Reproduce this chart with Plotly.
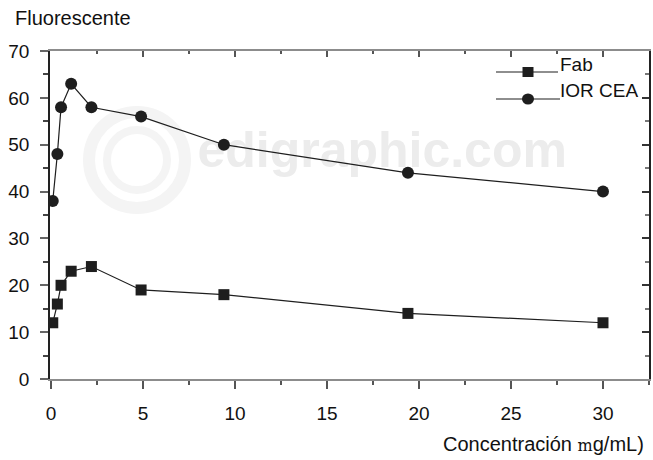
import plotly.graph_objects as go

# Concentration (x) and fluorescence readings for both antibody preparations
concentracion = [0.1, 0.35, 0.55, 1.1, 2.2, 4.9, 9.4, 19.4, 30]
fab = [12, 16, 20, 23, 24, 19, 18, 14, 12]
ior_cea = [38, 48, 58, 63, 58, 56, 50, 44, 40]
series_names = ["Fab", "IOR CEA"]
x_ticks = [0, 5, 10, 15, 20, 25, 30]
y_ticks = [0, 10, 20, 30, 40, 50, 60, 70]
y_title = "Fluorescente"
x_title = "Concentración <span style=\"font-family:'DejaVu Serif';font-size:16px\">m</span>g/mL)"
watermark = "edigraphic.com"

FONT = "Liberation Sans, Arial, Helvetica, sans-serif"
INK = "#1e1e1e"

# plot-area geometry in pixels (used to place the hand-drawn legend)
L, R, T, B = 50, 649, 51, 379
W, H = R - L, B - T


def px(x):
    return (x - L) / W


def py(y):
    return (B - y) / H


fig = go.Figure()

# faint publisher watermark behind the data
fig.add_trace(go.Scatter(
    x=[18.0], y=[48.0], mode="text", text=[watermark],
    textfont=dict(family="Liberation Sans, Arial", size=50,
                  color="#ececec", weight="bold"),
    hoverinfo="skip", showlegend=False))

fig.add_trace(go.Scatter(
    x=concentracion, y=fab, name=series_names[0], mode="lines+markers",
    line=dict(color=INK, width=1.2),
    marker=dict(symbol="square", size=11, color=INK),
    showlegend=False))

fig.add_trace(go.Scatter(
    x=concentracion, y=ior_cea, name=series_names[1], mode="lines+markers",
    line=dict(color=INK, width=1.2),
    marker=dict(symbol="circle", size=12, color=INK),
    showlegend=False))

tickfont = dict(family=FONT, size=19, color="#111")

fig.update_layout(
    width=653, height=460,
    margin=dict(l=L, r=653 - R, t=T, b=460 - B, pad=0),
    paper_bgcolor="white", plot_bgcolor="rgba(0,0,0,0)",
    font=dict(family=FONT, size=19, color="#111"),
    xaxis=dict(range=[-0.05, 32.5], tickvals=x_ticks, showgrid=False, zeroline=False,
               showline=True, linecolor="#8c8c8c", linewidth=2,
               ticks="outside", ticklen=8, tickwidth=1.5, tickcolor="#555",
               minor=dict(dtick=2.5, tick0=0, ticks="outside", ticklen=4,
                          tickwidth=1.5, tickcolor="#555"),
               tickfont=tickfont, ticklabelstandoff=8),
    yaxis=dict(range=[0, 70], tickvals=y_ticks, showgrid=False, zeroline=False,
               showline=True, linecolor="#222", linewidth=1.5,
               ticks="outside", ticklen=8, tickwidth=1.5, tickcolor="#666",
               minor=dict(dtick=5, tick0=0, ticks="outside", ticklen=5,
                          tickwidth=1.5, tickcolor="#444"),
               tickfont=tickfont, ticklabelstandoff=7),
    xaxis2=dict(overlaying="x", side="top", matches="x", showticklabels=False,
                showgrid=False, zeroline=False, showline=True, linecolor="#8c8c8c",
                linewidth=2, tickvals=x_ticks, ticks="inside", ticklen=6,
                tickwidth=1.5, tickcolor="#555",
                minor=dict(dtick=2.5, tick0=0, ticks="inside", ticklen=3,
                           tickwidth=1.5, tickcolor="#555")),
    yaxis2=dict(overlaying="y", side="right", matches="y", showticklabels=False,
                showgrid=False, zeroline=False, showline=True, linecolor="#222",
                linewidth=1.5, tickvals=y_ticks, ticks="inside", ticklen=7,
                tickwidth=1.5, tickcolor="#333",
                minor=dict(dtick=5, tick0=0, ticks="inside", ticklen=4,
                           tickwidth=1.5, tickcolor="#777")),
)

# invisible trace so the top/right frame axes are rendered
fig.add_trace(go.Scatter(x=[None], y=[None], xaxis="x2", yaxis="y2",
                         showlegend=False, hoverinfo="skip"))

# faint round emblem of the watermark
for r_px, w in [(48, 12), (30, 8)]:
    fig.add_shape(type="circle", xref="paper", yref="paper", layer="below",
                  xsizemode="pixel", ysizemode="pixel",
                  xanchor=px(137), yanchor=py(160), x0=-r_px, x1=r_px, y0=-r_px, y1=r_px,
                  line=dict(color="#f4f4f4", width=w))

# axis titles
fig.add_annotation(text=y_title, xref="paper", yref="paper", x=px(13), y=py(18),
                   xanchor="left", yanchor="middle", showarrow=False,
                   font=dict(family=FONT, size=20, color="#111"))
fig.add_annotation(text=x_title, xref="paper", yref="paper", x=px(646), y=py(444),
                   xanchor="right", yanchor="middle", showarrow=False,
                   font=dict(family=FONT, size=20, color="#111"))

# legend: line sample, marker and label for each series
legend_rows = [(series_names[0], "square", 72, 64, 558),
               (series_names[1], "circle", 99, 90, 560)]
for label, sym, ly, ty, lx1 in legend_rows:
    fig.add_shape(type="line", xref="paper", yref="paper",
                  x0=px(496), x1=px(lx1), y0=py(ly), y1=py(ly),
                  line=dict(color=INK, width=1.2))
    s = 5.5 if sym == "square" else 6
    fig.add_shape(type="rect" if sym == "square" else "circle",
                  xref="paper", yref="paper", xsizemode="pixel", ysizemode="pixel",
                  xanchor=px(528), yanchor=py(ly), x0=-s, x1=s, y0=-s + 0.5, y1=s - 0.5,
                  fillcolor=INK, line=dict(width=0))
    fig.add_annotation(text=label, xref="paper", yref="paper", x=px(558), y=py(ty),
                       xanchor="left", yanchor="middle", showarrow=False,
                       font=dict(family=FONT, size=19, color="#111"))

fig.write_html("out.html")
